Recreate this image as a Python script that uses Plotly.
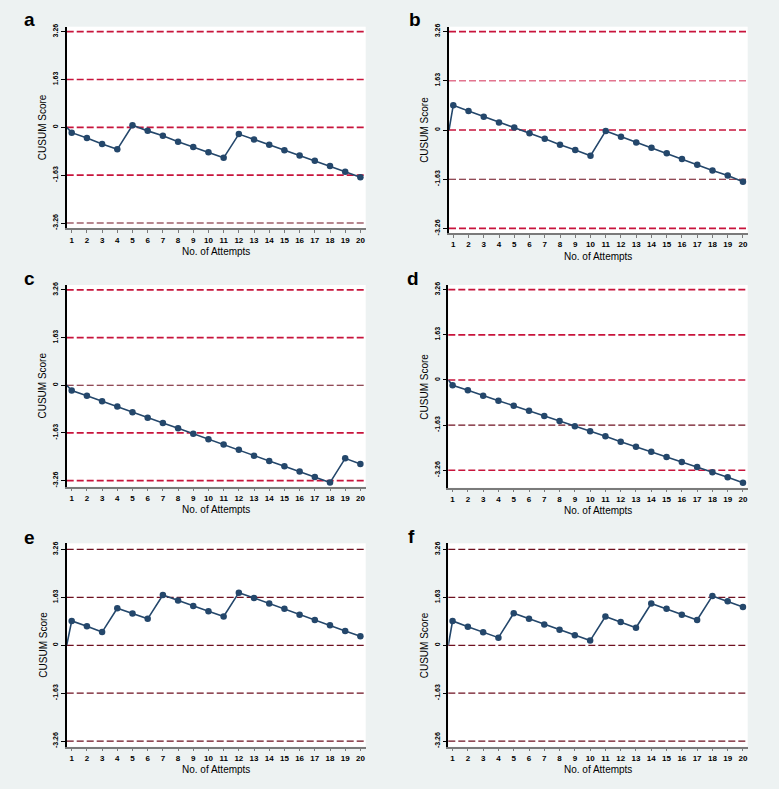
import plotly.graph_objects as go

# ---------------- data ----------------
attempts = list(range(1, 21))
start_score = 0.0
score_a = [-0.18, -0.36, -0.57, -0.75, 0.07, -0.12, -0.29, -0.49, -0.67, -0.85,
           -1.04, -0.23, -0.41, -0.59, -0.78, -0.96, -1.14, -1.32, -1.51, -1.70]
score_b = [0.82, 0.63, 0.44, 0.25, 0.08, -0.11, -0.29, -0.49, -0.66, -0.85,
           -0.03, -0.22, -0.41, -0.59, -0.77, -0.96, -1.15, -1.34, -1.51, -1.71]
score_c = [-0.18, -0.36, -0.55, -0.73, -0.92, -1.11, -1.29, -1.47, -1.66, -1.85,
           -2.03, -2.21, -2.41, -2.59, -2.77, -2.95, -3.14, -3.33, -2.50, -2.69]
score_d = [-0.19, -0.37, -0.57, -0.75, -0.93, -1.11, -1.30, -1.48, -1.67, -1.85,
           -2.03, -2.23, -2.41, -2.59, -2.78, -2.96, -3.14, -3.33, -3.51, -3.71]
score_e = [0.83, 0.65, 0.45, 1.26, 1.08, 0.90, 1.71, 1.52, 1.34, 1.16,
           0.98, 1.79, 1.61, 1.42, 1.24, 1.04, 0.86, 0.68, 0.49, 0.31]
score_f = [0.83, 0.63, 0.44, 0.26, 1.09, 0.90, 0.71, 0.53, 0.34, 0.16,
           0.98, 0.79, 0.60, 1.42, 1.24, 1.04, 0.86, 1.68, 1.50, 1.30]
limit_values = [3.26, 1.63, 0, -1.63, -3.26]
limit_labels = ["3.26", "1.63", "0", "-1.63", "-3.26"]
panel_labels = ["a", "b", "c", "d", "e", "f"]
x_title = "No. of Attempts"
y_title = "CUSUM Score"

scores = [score_a, score_b, score_c, score_d, score_e, score_f]

# ---------------- layout / styles ----------------
W, H = 779, 789
# plot boxes in pixels: (left, right, top, bottom)
boxes = [(66.7, 365.7, 26.7, 228.3), (449.0, 747.7, 26.7, 233.0),
         (66.7, 365.7, 285.0, 486.7), (448.3, 747.7, 285.0, 487.7),
         (66.7, 365.7, 543.3, 746.7), (448.3, 747.7, 543.3, 746.7)]
yranges = [(-3.44, 3.43), (-3.41, 3.42), (-3.47, 3.43),
           (-3.89, 3.43), (-3.45, 3.47), (-3.45, 3.47)]
xranges = [(0.67, 20.35), (0.72, 20.31), (0.67, 20.35),
           (0.72, 20.31), (0.67, 20.35), (0.72, 20.31)]
letter_pos = [(29, 20), (415, 20), (29, 278), (413, 278), (29, 537), (411, 536)]

BRIGHT = ("#c8143c", 1.7)
DARK = ("#6e1020", 1.2)
PINK = ("#e2758f", 1.7)
line_styles = [
    [BRIGHT, BRIGHT, BRIGHT, BRIGHT, DARK],
    [BRIGHT, PINK, BRIGHT, DARK, BRIGHT],
    [BRIGHT, BRIGHT, DARK, BRIGHT, BRIGHT],
    [BRIGHT, BRIGHT, BRIGHT, DARK, BRIGHT],
    [DARK] * 5,
    [DARK] * 5,
]

LINE_COLOR = "#24476b"
BG = "#edf2f2"
FONT = "Liberation Sans, Arial, sans-serif"

fig = go.Figure()
layout = dict(
    width=W, height=H,
    margin=dict(l=0, r=0, t=0, b=0),
    paper_bgcolor=BG,
    plot_bgcolor="white",
    showlegend=False,
    font=dict(family=FONT, color="black"),
)
shapes = []
annotations = []

for i, sc in enumerate(scores):
    n = i + 1
    xa = "x" if n == 1 else f"x{n}"
    ya = "y" if n == 1 else f"y{n}"
    xkey = "xaxis" if n == 1 else f"xaxis{n}"
    ykey = "yaxis" if n == 1 else f"yaxis{n}"
    left, right, top, bottom = boxes[i]
    x0 = xranges[i][0]

    fig.add_trace(go.Scatter(
        x=[x0] + attempts, y=[start_score] + sc,
        mode="lines", line=dict(color=LINE_COLOR, width=1.6),
        xaxis=xa, yaxis=ya, hoverinfo="skip", cliponaxis=False))
    fig.add_trace(go.Scatter(
        x=attempts, y=sc, mode="markers",
        marker=dict(color=LINE_COLOR, size=6.5),
        xaxis=xa, yaxis=ya, cliponaxis=False))

    layout[xkey] = dict(
        domain=[left / W, right / W], anchor=ya, range=list(xranges[i]),
        tickmode="array", tickvals=attempts, ticktext=[str(a) for a in attempts],
        showgrid=False, zeroline=False, showline=True, linecolor="#7a7a7a",
        linewidth=1.5, ticks="outside", ticklen=3, tickcolor="#7a7a7a",
        tickwidth=1, tickfont=dict(size=8, family=FONT, weight="bold"),
        automargin=False, fixedrange=True)
    layout[ykey] = dict(
        domain=[1 - bottom / H, 1 - top / H], anchor=xa, range=list(yranges[i]),
        tickmode="array", tickvals=limit_values, ticktext=limit_labels,
        tickangle=-90, showgrid=False, zeroline=False, showline=True,
        linecolor="black", linewidth=1.5, ticks="outside", ticklen=4,
        tickcolor="black", tickwidth=1,
        tickfont=dict(size=7, family=FONT, weight="bold"),
        automargin=False, fixedrange=True)

    for v, (col, wid) in zip(limit_values, line_styles[i]):
        shapes.append(dict(type="line", xref=f"{xa} domain", yref=ya,
                           x0=0, x1=1, y0=v, y1=v, layer="below",
                           line=dict(color=col, width=wid, dash="7px,3px")))

    lx, ly = letter_pos[i]
    annotations.append(dict(text=panel_labels[i], x=lx / W, y=1 - ly / H,
                            xref="paper", yref="paper", showarrow=False,
                            xanchor="center", yanchor="middle",
                            font=dict(size=19, family=FONT, weight="bold")))
    annotations.append(dict(text=y_title, x=(left - 24) / W,
                            y=1 - (top + bottom) / 2 / H, xref="paper", yref="paper",
                            showarrow=False, textangle=-90, xanchor="center",
                            yanchor="middle", font=dict(size=10, family=FONT)))
    annotations.append(dict(text=x_title, x=(left + right) / 2 / W,
                            y=1 - (bottom + 23) / H, xref="paper", yref="paper",
                            showarrow=False, xanchor="center", yanchor="middle",
                            font=dict(size=10, family=FONT)))

layout["shapes"] = shapes
layout["annotations"] = annotations
fig.update_layout(**layout)
fig.write_html(
    "out.html",
    config={"displayModeBar": False},
    post_script="document.body.style.margin='0';"
                "document.body.style.background='" + BG + "';"
                "document.body.style.overflow='hidden';",
)
